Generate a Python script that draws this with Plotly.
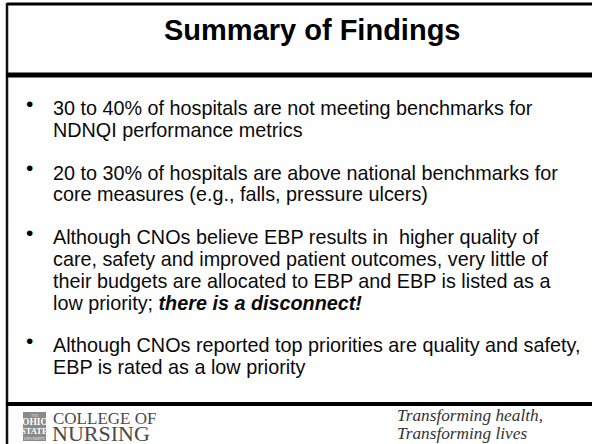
import plotly.graph_objects as go

W, H = 592, 444

title = "Summary of Findings"
bullets = [
    ["30 to 40% of hospitals are not meeting benchmarks for",
     "NDNQI performance metrics"],
    ["20 to 30% of hospitals are above national benchmarks for",
     "core measures (e.g., falls, pressure ulcers)"],
    ["Although CNOs believe EBP results in  higher quality of",
     "care, safety and improved patient outcomes, very little of",
     "their budgets are allocated to EBP and EBP is listed as a",
     "low priority; <b><i>there is a disconnect!</i></b>"],
    ["Although CNOs reported top priorities are quality and safety,",
     "EBP is rated as a low priority"],
]
logo_lines = ["COLLEGE OF", "NURSING"]
logo_box = ["THE", "OHIO", "STATE", "UNIVERSITY"]
tagline = ["Transforming health,", "Transforming lives"]

fig = go.Figure()
fig.add_trace(go.Scatter(x=[0, W], y=[0, H], mode="markers",
                         marker=dict(opacity=0), hoverinfo="skip", showlegend=False))

sans = "Liberation Sans, Arial, sans-serif"
serif = "Liberation Serif, Times New Roman, serif"

shapes = []
# frame lines
shapes.append(dict(type="line", x0=7, x1=W, y0=4, y1=4, line=dict(color="black", width=3)))
shapes.append(dict(type="line", x0=7, x1=7, y0=3, y1=H, line=dict(color="#111", width=2.5)))
shapes.append(dict(type="line", x0=6, x1=W, y0=75, y1=75, line=dict(color="black", width=5)))
shapes.append(dict(type="line", x0=6, x1=W, y0=404, y1=404, line=dict(color="black", width=4)))
# logo box
shapes.append(dict(type="rect", x0=23, x1=46, y0=412, y1=441, fillcolor="#8a8a8a",
                   line=dict(width=0)))

ann = []
ann.append(dict(x=312, y=30, text="<b>" + title + "</b>", showarrow=False,
                xanchor="center", yanchor="middle",
                font=dict(family=sans, size=29, color="black")))

y = 108
line_h = 21.8
gap = 21
for para in bullets:
    ann.append(dict(x=29, y=y - 5, text="•", showarrow=False, xanchor="center",
                    yanchor="middle", font=dict(family=sans, size=21, color="black")))
    for ln in para:
        ann.append(dict(x=51, y=y, text=ln, showarrow=False, xanchor="left",
                        yanchor="middle", font=dict(family=sans, size=19.8, color="#0a0a0a")))
        y += line_h
    y += gap

# logo box text
ann.append(dict(x=34.5, y=415, text=logo_box[0], showarrow=False, xanchor="center",
                yanchor="middle", font=dict(family=serif, size=4, color="#ddd")))
ann.append(dict(x=34.5, y=422, text="<b>" + logo_box[1] + "</b>", showarrow=False,
                xanchor="center", yanchor="middle",
                font=dict(family=serif, size=9.5, color="white")))
ann.append(dict(x=34.5, y=431, text="<b>" + logo_box[2] + "</b>", showarrow=False,
                xanchor="center", yanchor="middle",
                font=dict(family=serif, size=8.5, color="white")))
ann.append(dict(x=34.5, y=438.5, text=logo_box[3], showarrow=False, xanchor="center",
                yanchor="middle", font=dict(family=serif, size=3.5, color="#eee")))
# college text
ann.append(dict(x=51, y=418, text=logo_lines[0], showarrow=False, xanchor="left",
                yanchor="middle", font=dict(family=serif, size=17, color="#4a4a4a")))
ann.append(dict(x=50, y=433.5, text=logo_lines[1], showarrow=False, xanchor="left",
                yanchor="middle", font=dict(family=serif, size=22, color="#4a4a4a")))
# tagline
ann.append(dict(x=395, y=415, text="<i>" + tagline[0] + "</i>", showarrow=False,
                xanchor="left", yanchor="middle",
                font=dict(family=serif, size=17.3, color="#333")))
ann.append(dict(x=395, y=433, text="<i>" + tagline[1] + "</i>", showarrow=False,
                xanchor="left", yanchor="middle",
                font=dict(family=serif, size=17.3, color="#333")))

fig.update_layout(
    width=W, height=H, margin=dict(l=0, r=0, t=0, b=0),
    paper_bgcolor="white", plot_bgcolor="white",
    xaxis=dict(range=[0, W], visible=False, fixedrange=True),
    yaxis=dict(range=[H, 0], visible=False, fixedrange=True),
    shapes=shapes, annotations=ann, showlegend=False,
)
fig.write_html("out.html", config={"displayModeBar": False},
               post_script="document.body.style.margin='0';"
                           "document.body.style.overflow='hidden';")
